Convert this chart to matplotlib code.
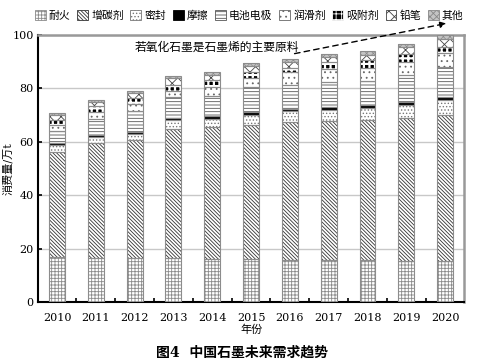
import matplotlib
matplotlib.use("Agg")
import matplotlib.pyplot as plt
from matplotlib.patches import Patch
import numpy as np

plt.rcParams['font.family'] = ['DejaVu Serif', 'Noto Sans CJK SC']
plt.rcParams['hatch.linewidth'] = 0.6

years = ['2010', '2011', '2012', '2013', '2014', '2015', '2016', '2017', '2018', '2019', '2020']
categories = ['耐火', '增碳剂', '密封', '摩擦', '电池电极', '润滑剂', '吸附剂', '铅笔', '其他']
naihuo  = [16.9, 16.7, 16.5, 16.4, 16.2, 16.0, 15.9, 15.8, 15.6, 15.4, 15.3]
zengtan = [39.3, 42.7, 44.0, 48.4, 49.2, 50.4, 51.5, 52.1, 52.7, 53.7, 54.8]
mifeng  = [2.6, 2.4, 2.6, 3.2, 3.3, 3.7, 4.0, 4.1, 4.3, 4.7, 5.6]
moca    = [0.8, 0.6, 0.7, 0.9, 1.0, 0.9, 1.0, 1.1, 1.0, 1.2, 1.2]
dianchi = [4.4, 6.2, 7.9, 7.7, 7.6, 9.4, 8.9, 9.2, 9.2, 9.9, 11.2]
runhua  = [2.3, 2.5, 2.5, 2.5, 3.3, 3.3, 4.7, 5.0, 5.0, 5.0, 5.0]
xifu    = [1.9, 2.2, 2.1, 2.2, 2.5, 2.5, 1.7, 2.5, 2.9, 3.1, 2.5]
qianbi  = [1.8, 1.5, 1.9, 2.4, 1.9, 2.1, 2.2, 2.0, 1.9, 2.5, 2.9]
qita    = [0.9, 0.7, 0.9, 1.0, 1.2, 1.2, 1.0, 1.0, 1.5, 1.2, 1.5]
series = [naihuo, zengtan, mifeng, moca, dianchi, runhua, xifu, qianbi, qita]

annotation = '若氧化石墨是石墨烯的主要原料'

styles = [
    dict(facecolor='white', hatch='+++++', hc='#8a8a8a', hlw=0.6),
    dict(facecolor='white', hatch='\\' * 9, hc='#333333', hlw=0.6),
    dict(facecolor='white', hatch='.....', hc='#777777', hlw=0.6),
    dict(facecolor='black', hatch=None, hc='black', hlw=0.6),
    dict(facecolor='white', hatch='-----', hc='#555555', hlw=0.6),
    dict(facecolor='white', hatch='...', hc='#666666', hlw=0.6),
    dict(facecolor='black', hatch='+++', hc='white', hlw=1.6),
    dict(facecolor='white', hatch='xxx', hc='#444444', hlw=0.6),
    dict(facecolor='#c4c4c4', hatch='xxxxx', hc='#888888', hlw=0.5),
]

fig = plt.figure(figsize=(4.84, 3.64), dpi=100)
ax = fig.add_axes([0.0785, 0.170, 0.8805, 0.734])

x = np.arange(len(years))
w = 0.41
bottom = np.zeros(len(years))
for vals, st in zip(series, styles):
    vals = np.array(vals)
    with plt.rc_context({'hatch.linewidth': st['hlw']}):
        ax.bar(x, vals, w, bottom=bottom, color=st['facecolor'], hatch=st['hatch'],
               edgecolor=st['hc'], linewidth=0, zorder=3)
    ax.bar(x, vals, w, bottom=bottom, facecolor='none', edgecolor='#8c8c8c',
           linewidth=0.8, zorder=4)
    bottom += vals

ax.set_xlim(-0.49, 10.49)
ax.set_ylim(0, 100)
ax.set_yticks([0, 20, 40, 60, 80, 100])
ax.set_xticks(x)
ax.set_xticklabels(years)
ax.set_xticks(np.arange(0.5, 10.5, 1), minor=True)
ax.tick_params(axis='x', which='major', length=0, labelsize=8, pad=8)
ax.tick_params(axis='x', which='minor', direction='in', length=3, width=1.2, color='black')
ax.tick_params(axis='y', direction='in', length=3, width=1.2, labelsize=8, pad=3)
ax.grid(axis='y', color='#c8c8c8', linewidth=1.0, zorder=0)
ax.set_axisbelow(True)

for s in ['left', 'bottom']:
    ax.spines[s].set_color('black')
    ax.spines[s].set_linewidth(1.5)
for s in ['top', 'right']:
    ax.spines[s].set_color('#999999')
    ax.spines[s].set_linewidth(1.8)

ax.set_ylabel('消费量/万t', fontsize=8)
ax.yaxis.set_label_coords(-0.058, 0.5)
ax.set_xlabel('年份', fontsize=8, labelpad=1)

ax.text(2.0, 95.5, annotation, fontsize=8.5, va='center', ha='left', zorder=5)
ax.annotate('', xy=(10.1, 104.5), xytext=(6.05, 92.8),
            arrowprops=dict(arrowstyle='-|>', linestyle=(0, (4, 3)), color='black',
                            lw=1.0, mutation_scale=9),
            annotation_clip=False, zorder=5)

handles = []
for st in styles:
    with plt.rc_context({'hatch.linewidth': st['hlw']}):
        handles.append(Patch(facecolor=st['facecolor'], hatch=st['hatch'],
                             edgecolor=st['hc'], linewidth=0.6))
fig.legend(handles, categories, loc='center', bbox_to_anchor=(0.515, 0.957), ncol=9,
           frameon=False, fontsize=7.8, handlelength=1.0, handleheight=1.0,
           handletextpad=0.3, columnspacing=0.6, borderaxespad=0)

fig.text(0.5, 0.032, '图4  中国石墨未来需求趋势', ha='center', va='center', fontsize=10,
         fontweight='bold')

fig.savefig('out.png', dpi=100)
